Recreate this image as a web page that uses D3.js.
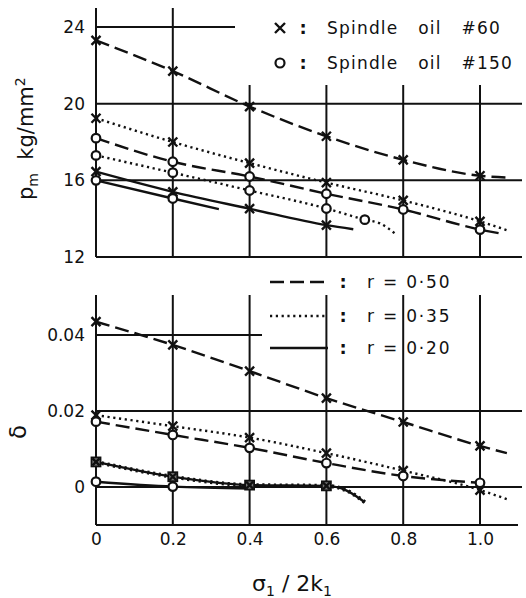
<!DOCTYPE html>
<html>
<head>
<meta charset="utf-8">
<script src="https://cdn.jsdelivr.net/npm/d3@7/dist/d3.min.js"></script>
<style>
  body { margin: 0; background: #fff; }
  text { font-family: "DejaVu Sans", sans-serif; fill: #111; }
</style>
</head>
<body>
<script>
// tick values
var xTicks = [0, 0.2, 0.4, 0.6, 0.8, 1.0];
var pmTicks = [12, 16, 20, 24];
var deltaTicks = [0, 0.02, 0.04];

// upper panel: p_m (kg/mm2), values at xTicks
var pm60r50 = [23.3, 21.7, 19.85, 18.3, 17.07, 16.24];
var pm60r35 = [19.24, 18.0, 16.9, 15.88, 14.95, 13.86];
var pm60r20 = [16.45, 15.4, 14.52, 13.66];
var pm150r50 = [18.2, 16.97, 16.2, 15.3, 14.48, 13.43];
var pm150r35x = [0, 0.2, 0.4, 0.6, 0.7];
var pm150r35 = [17.3, 16.4, 15.47, 14.53, 13.95];
var pm150r20 = [16.0, 15.05];

// lower panel: delta, values at xTicks
var d60r50 = [0.0435, 0.0374, 0.0305, 0.0234, 0.0171, 0.0108];
var d60r35 = [0.0189, 0.016, 0.013, 0.0089, 0.0043, -0.0008];
var d150r50 = [0.0172, 0.0137, 0.0103, 0.0063, 0.0029, 0.0011];
var dLow = [0.0066, 0.0027, 0.0005, 0.0003];   // r=0.35 #150 and r=0.20 #60 coincide
var d150r20 = [0.0014, 0.0001];

// unmarked line ends [x, y]
var pm60r50End = [[1.08, 16.14]];
var pm60r35End = [[1.07, 13.4]];
var pm150r50End = [[1.06, 13.2]];
var pm150r35End = [[0.74, 13.75], [0.78, 13.2]];
var pm60r20End = [[0.67, 13.45]];
var pm150r20End = [[0.32, 14.5]];
var d60r50End = [[1.07, 0.0089]];
var d60r35End = [[1.07, -0.0032]];
var dLowEnd = [[0.65, -0.0008], [0.70, -0.0040]];
var d150r20End = [[0.4, -0.0004]];

var legendOil = ["Spindle   oil   #60", "Spindle   oil   #150"];
var legendR = ["r = 0·50", "r = 0·35", "r = 0·20"];

var DASH = "14,6", DOT = "2.2,3.6", SOLID = null;

var svg = d3.select("body").append("svg")
  .attr("width", 526).attr("height", 598);

var x = d3.scaleLinear().domain([0, 1]).range([96, 480]);
var yTop = d3.scaleLinear().domain([12, 24]).range([257, 27]);
var yBot = d3.scaleLinear().domain([-0.01, 0.04]).range([525, 335]);

var grid = svg.append("g").attr("stroke", "#111").attr("stroke-width", 2);

// upper frame / grid
grid.append("line").attr("x1", x(0)).attr("x2", x(0)).attr("y1", 8).attr("y2", yTop(12));
grid.append("line").attr("x1", x(0.2)).attr("x2", x(0.2)).attr("y1", 8).attr("y2", yTop(12));
[0.4, 0.6, 0.8, 1.0].forEach(function(v) {
  grid.append("line").attr("x1", x(v)).attr("x2", x(v)).attr("y1", 85).attr("y2", yTop(12));
});
grid.append("line").attr("x1", x(0)).attr("x2", 235).attr("y1", yTop(24)).attr("y2", yTop(24));
[12, 16, 20].forEach(function(v) {
  grid.append("line").attr("x1", x(0)).attr("x2", 522).attr("y1", yTop(v)).attr("y2", yTop(v));
});

// lower frame / grid
xTicks.forEach(function(v) {
  grid.append("line").attr("x1", x(v)).attr("x2", x(v)).attr("y1", 295).attr("y2", yBot(-0.01));
});
grid.append("line").attr("x1", x(0)).attr("x2", 262).attr("y1", yBot(0.04)).attr("y2", yBot(0.04));
[0, 0.02].forEach(function(v) {
  grid.append("line").attr("x1", x(0)).attr("x2", 522).attr("y1", yBot(v)).attr("y2", yBot(v));
});
grid.append("line").attr("x1", x(0)).attr("x2", 518).attr("y1", yBot(-0.01)).attr("y2", yBot(-0.01));

// axes (labels only)
function strip(g) { g.select(".domain").remove(); g.selectAll("text").style("font-size", "17px").attr("fill", "#111"); }

svg.append("g").attr("transform", "translate(" + x(0) + ",0)")
  .call(d3.axisLeft(yTop).tickValues(pmTicks).tickSize(0).tickPadding(11))
  .call(strip);

svg.append("g").attr("transform", "translate(" + x(0) + ",0)")
  .call(d3.axisLeft(yBot).tickValues(deltaTicks).tickSize(0).tickPadding(11)
    .tickFormat(function(d) { return d === 0 ? "0" : d.toFixed(2); }))
  .call(strip);

svg.append("g").attr("transform", "translate(0," + yBot(-0.01) + ")")
  .call(d3.axisBottom(x).tickValues(xTicks).tickSize(0).tickPadding(8)
    .tickFormat(function(d) { return d === 0 ? "0" : d.toFixed(1); }))
  .call(strip);

// axis titles
var yl = svg.append("text").attr("transform", "translate(33,200) rotate(-90)")
  .style("font-size", "21px");
yl.append("tspan").text("p");
yl.append("tspan").attr("dy", 5).style("font-size", "14px").text("m");
yl.append("tspan").attr("dy", -5).text("\u00a0\u00a0kg/mm");
yl.append("tspan").attr("dy", -8).style("font-size", "14px").text("2");

svg.append("text").attr("transform", "translate(26,432) rotate(-90)")
  .attr("text-anchor", "middle").style("font-size", "23px").text("\u03b4");

var xl = svg.append("text").attr("x", 292).attr("y", 591).attr("text-anchor", "middle")
  .style("font-size", "22px");
xl.append("tspan").text("\u03c3");
xl.append("tspan").attr("dy", 5).style("font-size", "14px").text("1");
xl.append("tspan").attr("dy", -5).text(" / 2k");
xl.append("tspan").attr("dy", 5).style("font-size", "14px").text("1");

// series drawing
var marks = svg.append("g");

function cross(g, cx, cy, s) {
  g.append("path").attr("d", "M" + (cx - s) + "," + (cy - s) + "L" + (cx + s) + "," + (cy + s) +
    "M" + (cx - s) + "," + (cy + s) + "L" + (cx + s) + "," + (cy - s))
    .attr("stroke", "#111").attr("stroke-width", 2.4).attr("fill", "none");
}
function ring(g, cx, cy, r) {
  g.append("circle").attr("cx", cx).attr("cy", cy).attr("r", r)
    .attr("fill", "#fff").attr("stroke", "#111").attr("stroke-width", 2.2);
}
function boxed(g, cx, cy) {
  g.append("rect").attr("x", cx - 4.5).attr("y", cy - 4.5).attr("width", 9).attr("height", 9)
    .attr("fill", "#777").attr("stroke", "#111").attr("stroke-width", 1.8);
  cross(g, cx, cy, 3.5);
}

function series(y, xs, vals, tail, dash, marker, width) {
  var pts = vals.map(function(v, i) { return [xs[i], v]; }).concat(tail || []);
  var line = d3.line().x(function(d) { return x(d[0]); }).y(function(d) { return y(d[1]); })
    .curve(d3.curveMonotoneX);
  marks.append("path").datum(pts).attr("d", line)
    .attr("fill", "none").attr("stroke", "#111").attr("stroke-width", width || 2.4)
    .attr("stroke-dasharray", dash);
  if (!marker) return;
  vals.forEach(function(v, i) {
    if (marker === "x") cross(marks, x(xs[i]), y(v), 4.5);
    else if (marker === "o") ring(marks, x(xs[i]), y(v), 4.3);
    else boxed(marks, x(xs[i]), y(v));
  });
}

// upper panel
series(yTop, xTicks, pm60r50, pm60r50End, DASH, "x");
series(yTop, xTicks, pm60r35, pm60r35End, DOT, "x");
series(yTop, xTicks, pm150r50, pm150r50End, DASH, "o");
series(yTop, pm150r35x, pm150r35, pm150r35End, DOT, "o");
series(yTop, xTicks, pm60r20, pm60r20End, SOLID, "x");
series(yTop, xTicks, pm150r20, pm150r20End, SOLID, "o");

// lower panel
series(yBot, xTicks, d60r50, d60r50End, DASH, "x");
series(yBot, xTicks, d60r35, d60r35End, DOT, "x");
series(yBot, xTicks, d150r50, null, DASH, "o");
series(yBot, xTicks, d150r20, d150r20End, SOLID, "o");
series(yBot, xTicks, dLow, dLowEnd, SOLID, null, 2.4);
series(yBot, xTicks, dLow, dLowEnd, DOT, "box", 4);

// legend: oils
var lg = svg.append("g");
cross(lg, 280, 28, 5);
ring(lg, 280, 63, 4.5);
[28, 63].forEach(function(yy, i) {
  lg.append("text").attr("x", 303).attr("y", yy + 6).attr("text-anchor", "middle")
    .style("font-size", "18px").style("font-weight", "bold").text(":");
  lg.append("text").attr("x", 327).attr("y", yy + 6).style("font-size", "17px")
    .style("letter-spacing", "1.2px").attr("xml:space", "preserve").style("white-space", "pre")
    .text(legendOil[i]);
});

// legend: r values
var rDash = [DASH, DOT, SOLID];
[282, 316, 348].forEach(function(yy, i) {
  lg.append("line").attr("x1", 270).attr("x2", 328).attr("y1", yy).attr("y2", yy)
    .attr("stroke", "#111").attr("stroke-width", 2.4).attr("stroke-dasharray", rDash[i]);
  lg.append("text").attr("x", 343).attr("y", yy + 6).attr("text-anchor", "middle")
    .style("font-size", "18px").style("font-weight", "bold").text(":");
  lg.append("text").attr("x", 367).attr("y", yy + 6).style("font-size", "17px")
    .style("letter-spacing", "1.8px").attr("xml:space", "preserve").style("white-space", "pre")
    .text(legendR[i]);
});
</script>
</body>
</html>
